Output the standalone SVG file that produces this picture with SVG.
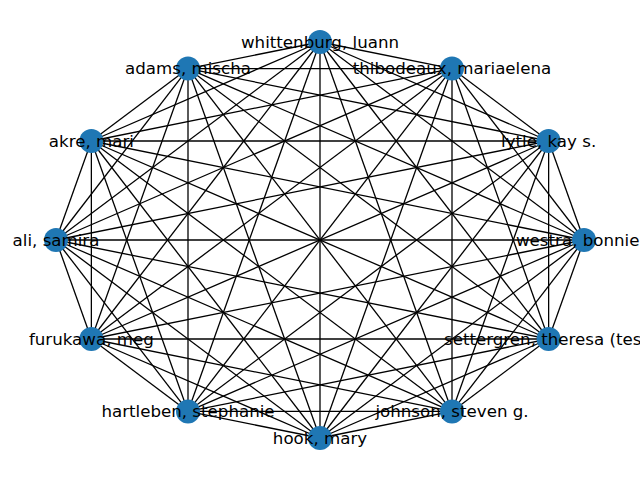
<svg xmlns="http://www.w3.org/2000/svg" width="640" height="480" viewBox="0 0 640 480">
<style>
.e line{stroke:#000;stroke-width:1.3}
.n circle{fill:#1f77b4}
.n text{font-family:"DejaVu Sans",sans-serif;font-size:16.67px;fill:#000;text-anchor:middle}
</style>
<rect width="640" height="480" fill="#fff"/>
<g id="edges" class="e">
<line x1="584" y1="240" x2="548.63" y2="141"/>
<line x1="584" y1="240" x2="452" y2="68.53"/>
<line x1="584" y1="240" x2="320" y2="42"/>
<line x1="584" y1="240" x2="188" y2="68.53"/>
<line x1="584" y1="240" x2="91.37" y2="141"/>
<line x1="584" y1="240" x2="56" y2="240"/>
<line x1="584" y1="240" x2="91.37" y2="339"/>
<line x1="584" y1="240" x2="188" y2="411.47"/>
<line x1="584" y1="240" x2="320" y2="438"/>
<line x1="584" y1="240" x2="452" y2="411.47"/>
<line x1="584" y1="240" x2="548.63" y2="339"/>
<line x1="548.63" y1="141" x2="452" y2="68.53"/>
<line x1="548.63" y1="141" x2="320" y2="42"/>
<line x1="548.63" y1="141" x2="188" y2="68.53"/>
<line x1="548.63" y1="141" x2="91.37" y2="141"/>
<line x1="548.63" y1="141" x2="56" y2="240"/>
<line x1="548.63" y1="141" x2="91.37" y2="339"/>
<line x1="548.63" y1="141" x2="188" y2="411.47"/>
<line x1="548.63" y1="141" x2="320" y2="438"/>
<line x1="548.63" y1="141" x2="452" y2="411.47"/>
<line x1="548.63" y1="141" x2="548.63" y2="339"/>
<line x1="452" y1="68.53" x2="320" y2="42"/>
<line x1="452" y1="68.53" x2="188" y2="68.53"/>
<line x1="452" y1="68.53" x2="91.37" y2="141"/>
<line x1="452" y1="68.53" x2="56" y2="240"/>
<line x1="452" y1="68.53" x2="91.37" y2="339"/>
<line x1="452" y1="68.53" x2="188" y2="411.47"/>
<line x1="452" y1="68.53" x2="320" y2="438"/>
<line x1="452" y1="68.53" x2="452" y2="411.47"/>
<line x1="452" y1="68.53" x2="548.63" y2="339"/>
<line x1="320" y1="42" x2="188" y2="68.53"/>
<line x1="320" y1="42" x2="91.37" y2="141"/>
<line x1="320" y1="42" x2="56" y2="240"/>
<line x1="320" y1="42" x2="91.37" y2="339"/>
<line x1="320" y1="42" x2="188" y2="411.47"/>
<line x1="320" y1="42" x2="320" y2="438"/>
<line x1="320" y1="42" x2="452" y2="411.47"/>
<line x1="320" y1="42" x2="548.63" y2="339"/>
<line x1="188" y1="68.53" x2="91.37" y2="141"/>
<line x1="188" y1="68.53" x2="56" y2="240"/>
<line x1="188" y1="68.53" x2="91.37" y2="339"/>
<line x1="188" y1="68.53" x2="188" y2="411.47"/>
<line x1="188" y1="68.53" x2="320" y2="438"/>
<line x1="188" y1="68.53" x2="452" y2="411.47"/>
<line x1="188" y1="68.53" x2="548.63" y2="339"/>
<line x1="91.37" y1="141" x2="56" y2="240"/>
<line x1="91.37" y1="141" x2="91.37" y2="339"/>
<line x1="91.37" y1="141" x2="188" y2="411.47"/>
<line x1="91.37" y1="141" x2="320" y2="438"/>
<line x1="91.37" y1="141" x2="452" y2="411.47"/>
<line x1="91.37" y1="141" x2="548.63" y2="339"/>
<line x1="56" y1="240" x2="91.37" y2="339"/>
<line x1="56" y1="240" x2="188" y2="411.47"/>
<line x1="56" y1="240" x2="320" y2="438"/>
<line x1="56" y1="240" x2="452" y2="411.47"/>
<line x1="56" y1="240" x2="548.63" y2="339"/>
<line x1="91.37" y1="339" x2="188" y2="411.47"/>
<line x1="91.37" y1="339" x2="320" y2="438"/>
<line x1="91.37" y1="339" x2="452" y2="411.47"/>
<line x1="91.37" y1="339" x2="548.63" y2="339"/>
<line x1="188" y1="411.47" x2="320" y2="438"/>
<line x1="188" y1="411.47" x2="452" y2="411.47"/>
<line x1="188" y1="411.47" x2="548.63" y2="339"/>
<line x1="320" y1="438" x2="452" y2="411.47"/>
<line x1="320" y1="438" x2="548.63" y2="339"/>
<line x1="452" y1="411.47" x2="548.63" y2="339"/>
</g>
<g id="nodes" class="n">
<g id="westra"><circle cx="584" cy="240" r="12"/><text x="516" y="245.5" style="text-anchor:start">westra, bonnie</text></g>
<g id="lytle"><circle cx="548.63" cy="141" r="12"/><text x="548.63" y="146.5">lytle, kay s.</text></g>
<g id="thibodeaux"><circle cx="452" cy="68.53" r="12"/><text x="452" y="74">thibodeaux, mariaelena</text></g>
<g id="whittenburg"><circle cx="320" cy="42" r="12"/><text x="320" y="47.5">whittenburg, luann</text></g>
<g id="adams"><circle cx="188" cy="68.53" r="12"/><text x="188" y="74">adams, mischa</text></g>
<g id="akre"><circle cx="91.37" cy="141" r="12"/><text x="91.37" y="146.5">akre, mari</text></g>
<g id="ali"><circle cx="56" cy="240" r="12"/><text x="56" y="245.5">ali, samira</text></g>
<g id="furukawa"><circle cx="91.37" cy="339" r="12"/><text x="91.37" y="344.5">furukawa, meg</text></g>
<g id="hartleben"><circle cx="188" cy="411.47" r="12"/><text x="188" y="417">hartleben, stephanie</text></g>
<g id="hook"><circle cx="320" cy="438" r="12"/><text x="320" y="443.5">hook, mary</text></g>
<g id="johnson"><circle cx="452" cy="411.47" r="12"/><text x="452" y="417">johnson, steven g.</text></g>
<g id="settergren"><circle cx="548.63" cy="339" r="12"/><text x="444" y="344.5" style="text-anchor:start">settergren, theresa (tes</text></g>
</g>
</svg>
